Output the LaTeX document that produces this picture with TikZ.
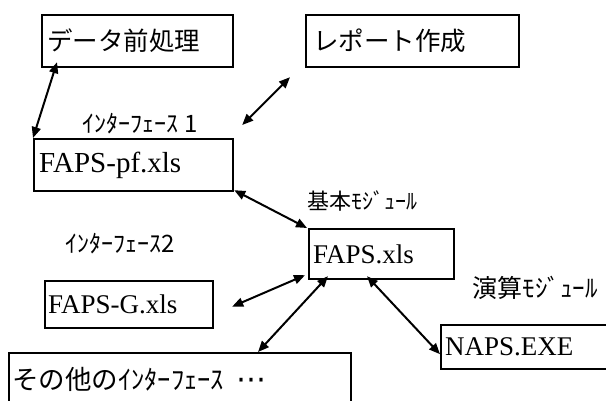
\documentclass[tikz,border=0pt]{standalone}
\usepackage{fontspec}
\setmainfont{Liberation Serif}
\newfontfamily\jp{Noto Sans CJK JP}
\newfontfamily\dejavu{DejaVu Sans}
\usetikzlibrary{arrows.meta,calc}
\tikzset{
  box/.style={draw, line width=2.2pt, inner sep=0pt, anchor=north west},
  boxtext/.style={anchor=west, inner sep=0pt, font=\fontsize{27}{29}\selectfont},
  jptext/.style={anchor=west, inner sep=0pt, font=\jp\fontsize{25.5}{27}\selectfont},
  lbl/.style={inner sep=0pt, font=\jp\fontsize{24}{26}\selectfont},
  link/.style={line width=2pt, {Triangle[length=11pt,width=9pt]}-{Triangle[length=11pt,width=9pt]}},
}
\begin{document}
\begin{tikzpicture}[x=1pt,y=-1pt]
\useasboundingbox (0,0) rectangle (606,401);
\clip (0,0) rectangle (606,401);
% boxes
\node[box, minimum width=191pt, minimum height=52pt] (pre) at (41,14) {};
\node[box, minimum width=213pt, minimum height=52pt] (rep) at (305,14) {};
\node[box, minimum width=199pt, minimum height=52pt] (pf) at (33,138) {};
\node[box, minimum width=145pt, minimum height=50pt] (faps) at (308,228) {};
\node[box, minimum width=168pt, minimum height=47pt] (g) at (44,280) {};
\node[box, minimum width=170pt, minimum height=44pt] (naps) at (440,324) {};
\node[box, minimum width=342pt, minimum height=70pt] (oth) at (8,352) {};
% box texts
\node[jptext] (tpre) at ($(pre.west)+(6,0)$) {データ前処理};
\node[jptext] (trep) at ($(rep.west)+(8,0)$) {レポート作成};
\node[boxtext, font=\fontsize{29}{31}\selectfont] (tpf) at ($(pf.west)+(6,0)$) {FAPS-pf.xls};
\node[boxtext] (tfaps) at ($(faps.west)+(5,0)$) {FAPS.xls};
\node[boxtext] (tg) at ($(g.west)+(4,0)$) {FAPS-G.xls};
\node[boxtext] (tnaps) at ($(naps.west)+(5,0)$) {NAPS.EXE};
\node[jptext, font=\jp\fontsize{26.5}{28}\selectfont] (toth) at ($(oth.north west)+(4,27)$) {その他のｲﾝﾀｰﾌｪｰｽ\hspace{12pt}{\dejavu\fontsize{30}{32}\selectfont ⋯}};
% labels
\node[lbl] (l1) at (140,124) {ｲﾝﾀｰﾌｪｰｽ 1};
\node[lbl, font=\jp\fontsize{22}{24}\selectfont] (l2) at (362,201) {基本ﾓｼﾞｭｰﾙ};
\node[lbl] (l3) at (120,244) {ｲﾝﾀｰﾌｪｰｽ2};
\node[lbl, font=\jp\fontsize{25}{27}\selectfont] (l4) at (535,288) {演算ﾓｼﾞｭｰﾙ};
% connectors
\draw[link] ($(pre.south west)+(16,-6)$) -- (pf.north west);
\draw[link] ($(rep.south west)+(-15,9)$) -- ($(pf.north east)+(8,-13)$);
\draw[link] ($(pf.south east)+(0,-2)$) -- ($(faps.north west)+(-1,0)$);
\draw[link] ($(g.east)+(18,2)$) -- ($(faps.south west)+(-3,-5)$);
\draw[link] ($(oth.north west)+(250,0)$) -- ($(faps.south west)+(20,-4)$);
\draw[link] ($(faps.south west)+(59,-4)$) -- ($(naps.south west)+(0,-16)$);
\end{tikzpicture}
\end{document}
